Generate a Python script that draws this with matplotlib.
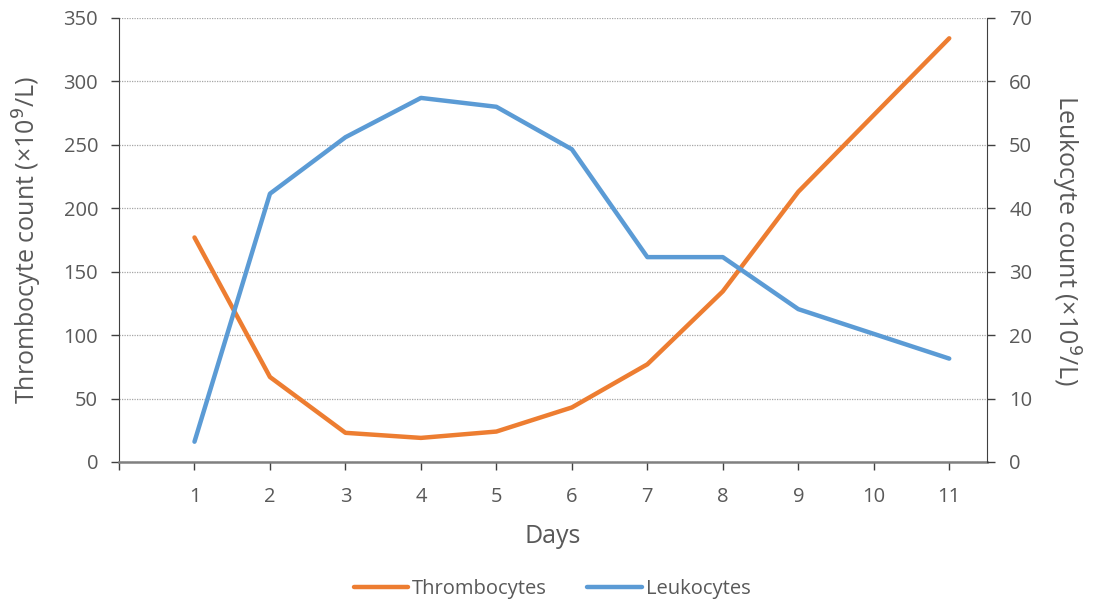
import matplotlib
matplotlib.use("Agg")
import matplotlib.pyplot as plt

days = [1, 2, 3, 4, 5, 6, 7, 8, 9, 10, 11]
thrombocytes = [177, 67, 23, 19, 24, 43, 77, 134.5, 213, 273.5, 334]
leukocytes = [3.2, 42.3, 51.2, 57.4, 56.0, 49.3, 32.3, 32.3, 24.1, 20.2, 16.3]

FONT = ["Open Sans", "DejaVu Sans"]
plt.rcParams['font.family'] = FONT
TXT = "#595959"
ORANGE = "#ED7D31"
BLUE = "#5B9BD5"

fig = plt.figure(figsize=(11.04, 6.12), dpi=100)
ax = fig.add_axes([0.1078, 0.2451, 0.7862, 0.7255])
ax2 = ax.twinx()

l1, = ax.plot(days, thrombocytes, color=ORANGE, lw=3.2, solid_capstyle='round', label="Thrombocytes", zorder=3)
l2, = ax2.plot(days, leukocytes, color=BLUE, lw=3.2, solid_capstyle='round', label="Leukocytes", zorder=3)

ax.set_xlim(0, 11.5)
ax.set_ylim(0, 350)
ax2.set_ylim(0, 70)
ax.set_yticks(range(0, 351, 50))
ax2.set_yticks(range(0, 71, 10))
ax.set_xticks(range(0, 12))
ax.set_xticklabels([""] + [str(d) for d in days])

ax.yaxis.grid(True, linestyle=(0, (1, 1)), color="#A6A6A6", lw=0.9)
ax.set_axisbelow(True)

for a in (ax, ax2):
    a.spines['top'].set_visible(False)
    a.tick_params(labelsize=14.5, colors=TXT, length=5, width=1)
ax.spines['left'].set_color("#404040")
ax2.spines['right'].set_color("#404040")
ax.spines['bottom'].set_color("#808080")
ax.spines['bottom'].set_linewidth(1.8)
ax2.spines['bottom'].set_visible(False)
ax2.spines['left'].set_visible(False)
ax.spines['right'].set_visible(False)
ax.tick_params(axis='y', color="#404040", length=6, pad=9)
ax2.tick_params(axis='y', color="#404040", length=6, pad=10)
ax.tick_params(axis='x', color="#404040", length=6, pad=12)

ax.set_xlabel("Days", fontsize=18, color=TXT, labelpad=12)
ax.set_ylabel("Thrombocyte count (×10$^{9}$/L)", fontsize=18, color=TXT, labelpad=14)
ax2.set_ylabel("Leukocyte count (×10$^{9}$/L)", fontsize=18, color=TXT, rotation=270, labelpad=36)

leg = fig.legend(handles=[l1, l2], loc='center', bbox_to_anchor=(0.5, 0.038), ncol=2,
                 frameon=False, fontsize=14.5, handlelength=2.7, handletextpad=0.2,
                 columnspacing=2.0)
for t in leg.get_texts():
    t.set_color(TXT)

fig.savefig("out.png", dpi=100)
